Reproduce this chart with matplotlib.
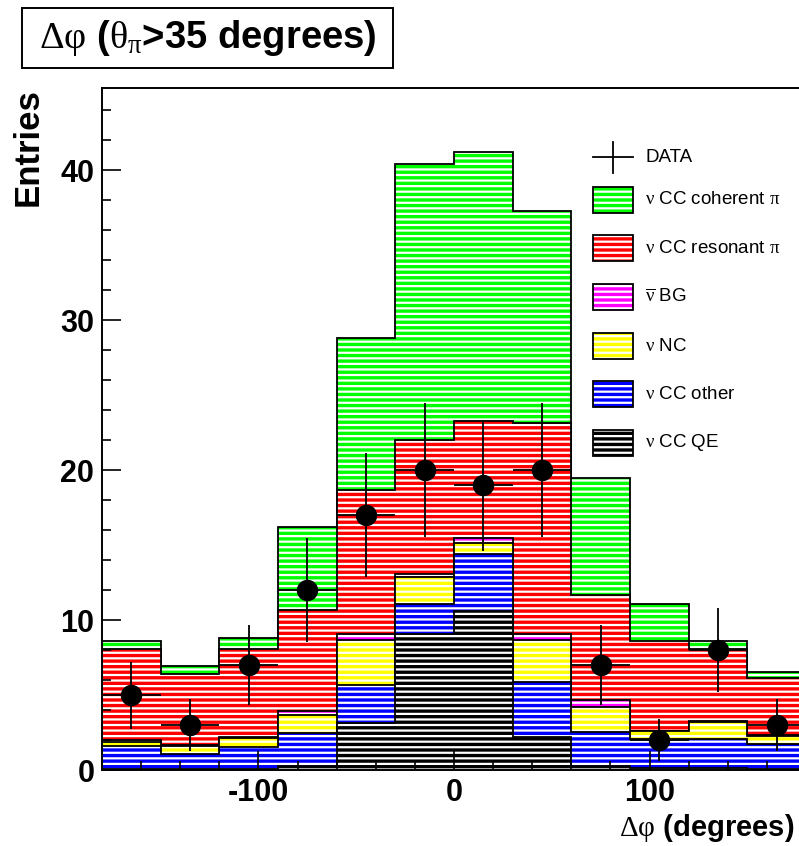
import numpy as np
import matplotlib
matplotlib.use("Agg")
import matplotlib.pyplot as plt
from matplotlib.patches import Rectangle
from matplotlib.lines import Line2D
from matplotlib.ticker import MultipleLocator, FixedLocator

plt.rcParams['font.family'] = ['Liberation Sans', 'DejaVu Sans']
# upright serif Greek letters inside math text
plt.rcParams['mathtext.fontset'] = 'custom'
plt.rcParams['mathtext.rm'] = 'Liberation Serif'
plt.rcParams['mathtext.it'] = 'Liberation Serif'
plt.rcParams['mathtext.bf'] = 'Liberation Serif:bold'
plt.rcParams['hatch.linewidth'] = 1.6
plt.rcParams['axes.unicode_minus'] = False

# Delta-phi binning (degrees)
bin_edges = [-180, -150, -120, -90, -60, -30, 0, 30, 60, 90, 120, 150, 180]

# Observed events per bin
data_counts = [5, 3, 7, 12, 17, 20, 19, 20, 7, 2, 8, 3]

# Monte Carlo components (entries per bin), stacked bottom to top
cc_qe = [0.10, 0.10, 0.10, 0.30, 3.15, 9.05, 10.60, 2.20, 0.30, 0.15, 0.15, 0.10]
cc_other = [1.50, 0.95, 1.45, 2.20, 2.55, 2.00, 3.80, 3.70, 2.25, 1.90, 1.90, 1.65]
nc = [0.25, 0.55, 0.60, 1.15, 3.00, 1.85, 0.75, 2.80, 1.65, 0.53, 1.15, 0.55]
nubar_bg = [0.15, 0.10, 0.05, 0.28, 0.35, 0.20, 0.35, 0.35, 0.45, 0.04, 0.07, 0.05]
cc_resonant = [6.05, 4.70, 5.90, 6.77, 9.60, 8.90, 7.80, 14.10, 7.02, 5.98, 4.77, 3.76]
cc_coherent = [0.55, 0.55, 0.70, 5.50, 10.15, 18.45, 17.90, 14.15, 7.78, 2.45, 0.56, 0.40]

stack_values = [cc_qe, cc_other, nc, nubar_bg, cc_resonant, cc_coherent]
stack_colors = ['#000000', '#0000ff', '#ffff00', '#ff00ff', '#ff0000', '#00ff00']
stack_labels = [r'$\nu$ CC QE', r'$\nu$ CC other', r'$\nu$ NC',
                r'$\overline{\nu}$ BG', r'$\nu$ CC resonant $\pi$',
                r'$\nu$ CC coherent $\pi$']

HATCH = '---'
W, H = 799, 846
fig = plt.figure(figsize=(W / 100, H / 100), dpi=100)

# axes frame in pixels: left 102, right 806, top 88, bottom 770
ax_l, ax_r, ax_t, ax_b = 102, 806, 88, 770
ax = fig.add_axes([ax_l / W, (H - ax_b) / H, (ax_r - ax_l) / W, (ax_b - ax_t) / H])

edges = np.array(bin_edges, dtype=float)
cum = np.cumsum(np.array(stack_values, dtype=float), axis=0)

# draw the largest cumulative first, smaller ones on top
for i in reversed(range(len(stack_values))):
    ax.stairs(cum[i], edges, fill=True, facecolor=stack_colors[i],
              edgecolor='white', hatch=HATCH, linewidth=0)
    ax.stairs(cum[i], edges, color='black', linewidth=1.3)

centers = 0.5 * (edges[:-1] + edges[1:])
half_w = 0.5 * np.diff(edges)
counts = np.array(data_counts, dtype=float)
ax.errorbar(centers, counts, xerr=half_w, yerr=np.sqrt(counts), fmt='o',
            color='black', markersize=14.4, elinewidth=1.3, capsize=0, zorder=5)

ax.set_xlim(-180, 180)
ax.set_ylim(0, 45.5)

ax.xaxis.set_major_locator(FixedLocator([-100, 0, 100]))
ax.xaxis.set_minor_locator(MultipleLocator(20))
ax.yaxis.set_major_locator(MultipleLocator(10))
ax.yaxis.set_minor_locator(MultipleLocator(2))
ax.tick_params(axis='both', which='major', direction='in', length=13.5,
               width=1.2, labelsize=22)
ax.tick_params(axis='both', which='minor', direction='in', length=6.5, width=1.2)
ax.tick_params(axis='x', which='major', pad=6)
ax.tick_params(axis='y', which='major', pad=5.5)
ax.tick_params(top=False, right=False, which='both')
for lbl in ax.get_xticklabels() + ax.get_yticklabels():
    lbl.set_fontweight('bold')
for sp in ax.spines.values():
    sp.set_linewidth(1.4)

ax.set_xlabel(r'$\Delta\varphi$ (degrees)', fontsize=21, fontweight='bold', loc='right')
ax.xaxis.set_label_coords((794 - ax_l) / (ax_r - ax_l), (ax_b - 812) / (ax_b - ax_t))
ax.set_ylabel('Entries', fontsize=25, fontweight='bold', loc='top')
ax.yaxis.set_label_coords((45 - ax_l) / (ax_r - ax_l), 1.0)


def ax_xy(px, py):
    return (px - ax_l) / (ax_r - ax_l), (ax_b - py) / (ax_b - ax_t)


# legend
box_x0, box_x1 = 593, 633
box_h = 26
text_x = 645
legend_fs = 13.5
x0, _ = ax_xy(box_x0, 0)
x1, _ = ax_xy(box_x1, 0)
tx, _ = ax_xy(text_x, 0)

# DATA entry: error-bar cross
cy = 157
_, y_c = ax_xy(0, cy)
_, y_top = ax_xy(0, 142)
_, y_bot = ax_xy(0, 173)
xm, _ = ax_xy(613, 0)
ax.add_line(Line2D([x0, x1], [y_c, y_c], color='black', lw=1.3, transform=ax.transAxes))
ax.add_line(Line2D([xm, xm], [y_bot, y_top], color='black', lw=1.3, transform=ax.transAxes))
ax.text(tx, y_c, 'DATA', transform=ax.transAxes, fontsize=legend_fs, va='center', ha='left')

legend_centers = [200, 248.3, 297, 346, 394, 442.7]
for k, i in enumerate(reversed(range(len(stack_values)))):
    py = legend_centers[k]
    _, yc = ax_xy(0, py)
    _, yb = ax_xy(0, py + box_h / 2)
    _, yt = ax_xy(0, py - box_h / 2)
    ax.add_patch(Rectangle((x0, yb), x1 - x0, yt - yb, transform=ax.transAxes,
                           facecolor=stack_colors[i], edgecolor='white',
                           hatch=HATCH, linewidth=0, zorder=6))
    ax.add_patch(Rectangle((x0, yb), x1 - x0, yt - yb, transform=ax.transAxes,
                           facecolor='none', edgecolor='black', linewidth=1.3, zorder=7))
    ax.text(tx, yc, stack_labels[i], transform=ax.transAxes, fontsize=legend_fs,
            va='center', ha='left', zorder=7)

# title box
fig.add_artist(Rectangle((22 / W, (H - 68) / H), 371 / W, 60 / H,
                         transform=fig.transFigure, facecolor='white',
                         edgecolor='black', linewidth=1.4))
fig.text(207.5 / W, (H - 38) / H, r'$\Delta\varphi$ ($\theta_{\pi}$>35 degrees)',
         fontsize=27.5, fontweight='bold', ha='center', va='center')

fig.savefig('out.png', dpi=100)
